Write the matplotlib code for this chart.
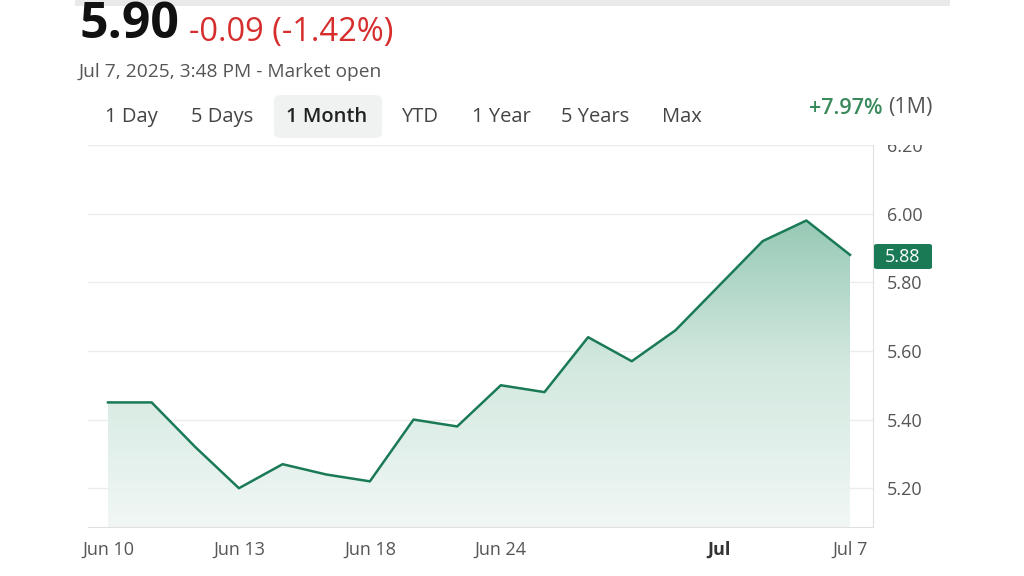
import numpy as np
import matplotlib
matplotlib.use("Agg")
import matplotlib.pyplot as plt
from matplotlib.patches import FancyBboxPatch, Rectangle, Polygon
from matplotlib.colors import LinearSegmentedColormap

# closing prices, 1 month view
dates = ["Jun 10", "Jun 11", "Jun 12", "Jun 13", "Jun 16", "Jun 17", "Jun 18", "Jun 20",
         "Jun 23", "Jun 24", "Jun 25", "Jun 26", "Jun 27", "Jun 30", "Jul 1", "Jul 2",
         "Jul 3", "Jul 7"]
prices = [5.45, 5.45, 5.32, 5.20, 5.27, 5.24, 5.22, 5.40, 5.38, 5.50, 5.48, 5.64,
          5.57, 5.66, 5.79, 5.92, 5.98, 5.88]
tick_idx = [0, 3, 6, 9, 14, 17]
tick_labels = ["Jun 10", "Jun 13", "Jun 18", "Jun 24", "Jul", "Jul 7"]
y_ticks = [5.20, 5.40, 5.60, 5.80, 6.00, 6.20]
tabs = ["1 Day", "5 Days", "1 Month", "YTD", "1 Year", "5 Years", "Max"]
tab_x = [131, 222, 327, 420, 501, 595, 682]

GREEN = "#1a7a56"
FONT = ["Open Sans", "DejaVu Sans"]
plt.rcParams["font.family"] = FONT

W, H = 1024, 576
fig = plt.figure(figsize=(W / 100, H / 100), dpi=100)
ax = fig.add_axes([88 / W, 1 - 527 / H, (873 - 88) / W, (527 - 145) / H])

x = np.arange(len(prices))
ymin, ymax = 5.087, 6.20
ax.set_xlim(-0.458, 17.527)
ax.set_ylim(ymin, ymax)

# gradient fill under the line
cmap = LinearSegmentedColormap.from_list("g", ["#f1f7f5", "#d2e8df", "#8dc4ae"])
grad = np.linspace(0, 1, 256).reshape(-1, 1)
im = ax.imshow(grad, extent=[x[0], x[-1], ymin, 6.05], origin="lower", aspect="auto",
               cmap=cmap, zorder=1)
poly = Polygon(list(zip(x, prices)) + [(x[-1], ymin), (x[0], ymin)], closed=True,
               transform=ax.transData, facecolor="none", edgecolor="none")
ax.add_patch(poly)
im.set_clip_path(poly)

ax.plot(x, prices, color=GREEN, lw=1.8, zorder=3, solid_joinstyle="round")

for v in y_ticks:
    ax.axhline(v, color="#ececec", lw=1, zorder=0)

for s in ["top", "left"]:
    ax.spines[s].set_visible(False)
ax.spines["bottom"].set_color("#e0e0e0")
ax.spines["right"].set_color("#e0e0e0")
ax.yaxis.tick_right()
ax.set_yticks(y_ticks)
ax.set_yticklabels(["%.2f" % v for v in y_ticks])
ax.tick_params(axis="y", length=0, pad=10, labelsize=13, labelcolor="#555555")
ax.set_xticks(tick_idx)
ax.set_xticklabels(tick_labels)
ax.tick_params(axis="x", length=0, pad=10, labelsize=13, labelcolor="#555555")
for lab in ax.get_xticklabels():
    if lab.get_text() == "Jul":
        lab.set_fontweight("bold")
        lab.set_color("#333333")

# hide upper half of 6.20 label
fig.patches.append(Rectangle((875 / W, 1 - 145 / H), 80 / W, 20 / H, transform=fig.transFigure,
                             facecolor="white", edgecolor="none", zorder=5))

# current price tag
fig.patches.append(FancyBboxPatch((874 / W, 1 - 269 / H), 58 / W, 25 / H,
                                  boxstyle="round,pad=0,rounding_size=0.003",
                                  transform=fig.transFigure, facecolor=GREEN,
                                  edgecolor="none", zorder=6))
fig.text(903 / W, 1 - 257 / H, "5.88", color="white", fontsize=13, ha="center",
         va="center", zorder=7)

# top shadow bar
fig.patches.append(Rectangle((75 / W, 1 - 6 / H), 875 / W, 6 / H, transform=fig.transFigure,
                             facecolor="#e9e9e9", edgecolor="none"))

# header
fig.text(80 / W, 1 - 25 / H, "5.90", fontsize=36, fontweight="bold", color="#111111",
         va="center")
fig.text(189 / W, 1 - 32 / H, "-0.09 (-1.42%)", fontsize=23.5, color="#d62d2d", va="center")
fig.text(79 / W, 1 - 72 / H, "Jul 7, 2025, 3:48 PM - Market open", fontsize=13.8,
         color="#555555", va="center")

# range tabs
fig.patches.append(FancyBboxPatch((274 / W, 1 - 138 / H), 108 / W, 43 / H,
                                  boxstyle="round,pad=0,rounding_size=0.008",
                                  transform=fig.transFigure, facecolor="#f0f2f2",
                                  edgecolor="none"))
for t, tx in zip(tabs, tab_x):
    sel = t == "1 Month"
    fig.text(tx / W, 1 - 117 / H, t, fontsize=14.5, ha="center", va="center",
             color="#222222" if sel else "#444444",
             fontweight="semibold" if sel else "normal")

fig.text(882 / W, 1 - 108 / H, "+7.97%", fontsize=15.5, color="#3a8a5c", ha="right",
         va="center", fontweight="semibold")
fig.text(888 / W, 1 - 108 / H, "(1M)", fontsize=15.5, color="#555555", ha="left", va="center")

fig.savefig("out.png", dpi=100)
